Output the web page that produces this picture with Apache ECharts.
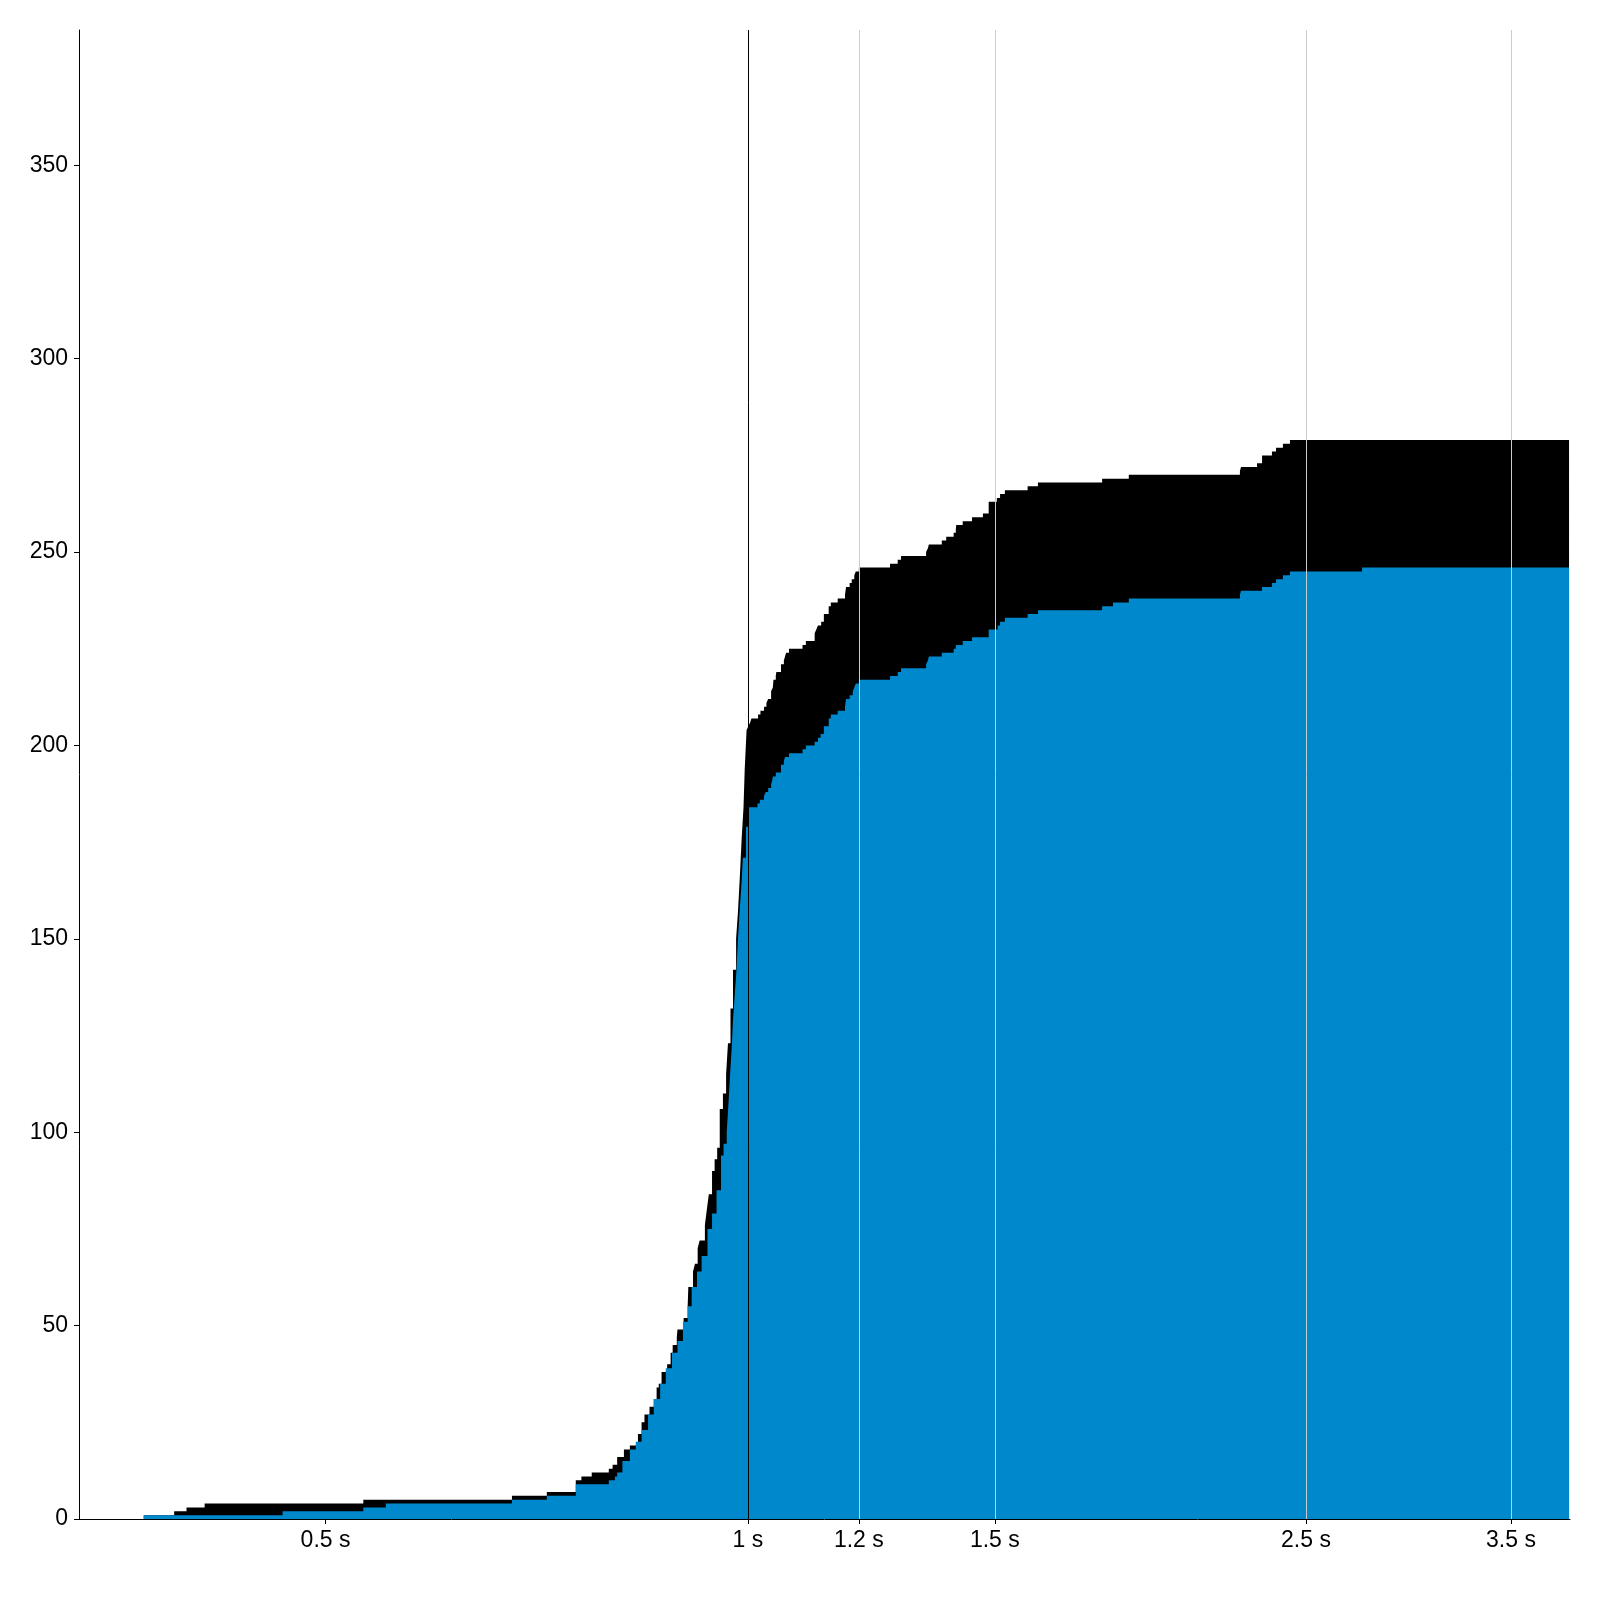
<!DOCTYPE html>
<html>
<head>
<meta charset="utf-8">
<script src="https://cdn.jsdelivr.net/npm/echarts@6/dist/echarts.min.js"></script>
<style>
  html, body { margin: 0; padding: 0; background: #fff; }
  #main { width: 1600px; height: 1600px; }
</style>
</head>
<body>
<div id="main"></div>
<script>
// tick labels
var xTicks = [0.5, 1, 1.2, 1.5, 2.5, 3.5];
var yTicks = [0, 50, 100, 150, 200, 250, 300, 350];

// total count (black) - time in seconds, cumulative value
var totalTimes = [0.371,0.390,0.398,0.410,0.532,0.679,0.719,0.754,0.761,0.774,
  0.796,0.801,0.807,0.816,0.824,0.835,0.840,0.844,0.851,0.857,
  0.861,0.864,0.868,0.876,0.881,0.884,0.890,0.891,0.900,0.906,
  0.907,0.914,0.917,0.921,0.924,0.932,0.935,0.938,0.943,0.947,
  0.951,0.955,0.960,0.965,0.968,0.972,0.976,0.981,0.984,0.987,
  0.990,0.993,0.995,0.998,1.001,1.004,1.006,1.017,1.021,1.027,
  1.031,1.034,1.039,1.042,1.043,1.047,1.048,1.056,1.061,1.063,
  1.065,1.070,1.094,1.100,1.116,1.119,1.122,1.128,1.133,1.142,
  1.146,1.159,1.173,1.175,1.182,1.186,1.191,1.194,1.200,1.263,
  1.279,1.286,1.340,1.344,1.346,1.375,1.385,1.402,1.407,1.408,
  1.423,1.445,1.471,1.485,1.505,1.513,1.525,1.583,1.610,1.789,
  1.869,2.243,2.247,2.307,2.326,2.364,2.380,2.407,2.435,3.850];
var totalValues = [1,2,3,4,5,6,7,10,11,12,
  13,14,16,18,19,22,25,27,29,31,
  34,35,38,40,43,45,47,49,52,55,
  60,64,66,70,72,76,80,84,90,93,
  96,106,110,115,123,132,142,150,157,166,
  176,184,194,204,205,206,207,208,209,210,
  211,212,214,215,217,218,219,221,222,223,
  224,225,226,227,229,230,231,232,234,236,
  237,238,239,241,242,243,244,245,246,247,
  248,249,250,251,252,253,254,255,256,257,
  258,259,260,263,264,265,266,267,268,269,
  270,271,272,273,275,276,277,278,279,279];

// blue part
var blueTimes = [0.371,0.466,0.532,0.552,0.679,0.719,0.754,0.796,0.804,0.807,
  0.814,0.824,0.832,0.840,0.849,0.857,0.866,0.874,0.883,0.891,
  0.899,0.906,0.912,0.920,0.927,0.936,0.943,0.950,0.957,0.961,
  0.966,0.969,0.971,0.974,0.976,0.979,0.982,0.984,0.987,0.990,
  0.992,0.997,1.002,1.016,1.020,1.027,1.030,1.034,1.039,1.041,
  1.042,1.047,1.056,1.061,1.063,1.070,1.094,1.100,1.116,1.122,
  1.127,1.133,1.142,1.146,1.159,1.173,1.175,1.182,1.188,1.191,
  1.194,1.200,1.263,1.279,1.286,1.340,1.344,1.346,1.375,1.402,
  1.407,1.423,1.445,1.485,1.507,1.513,1.525,1.583,1.610,1.789,
  1.821,1.869,2.243,2.247,2.326,2.364,2.380,2.407,2.435,2.741,3.850];
var blueValues = [1,2,3,4,5,6,9,10,11,12,
  15,18,20,23,27,31,35,39,43,46,
  51,55,60,64,68,75,79,85,94,97,
  100,108,114,122,129,136,143,150,158,165,
  171,179,184,185,186,187,188,189,190,191,
  192,193,195,196,197,198,199,200,201,202,
  203,205,207,208,209,210,212,213,214,215,
  216,217,218,219,220,221,222,223,224,225,
  226,227,228,230,231,232,233,234,235,236,
  237,238,239,240,241,242,243,244,245,246,247];

var myChart = echarts.init(document.getElementById("main"));

function pairs(ts, vs) {
  return ts.map(function (t, i) { return [t, vs[i]]; });
}

var labelFont = {
  color: "#000",
  fontSize: 23,
  fontFamily: "Liberation Sans, Arial, sans-serif",
};

var option = {
  animation: false,
  backgroundColor: "#fff",
  grid: {
    left: 79,
    right: 30,
    top: 30,
    bottom: 81,
  },
  xAxis: {
    type: "log",
    min: 0.3336,
    max: 3.856,
    z: 5,
    axisLine: { show: true, onZero: false, lineStyle: { color: "#000", width: 1 } },
    axisTick: { show: true, length: 5, customValues: xTicks, lineStyle: { color: "#000" } },
    axisLabel: Object.assign({
      customValues: xTicks,
      margin: 10,
      formatter: function (v) { return v + " s"; },
    }, labelFont),
    splitLine: {
      show: true,
      // no line at 0.5 s, 1 s line is black, the rest light grey
      lineStyle: { color: ["rgba(0,0,0,0)", "#000000", "#cccccc", "#cccccc", "#cccccc", "#cccccc"], width: 1 },
    },
    minorTick: { show: false },
    minorSplitLine: { show: false },
  },
  yAxis: {
    type: "value",
    min: 0,
    max: 385,
    interval: 50,
    axisLine: { show: true, lineStyle: { color: "#000", width: 1 } },
    axisTick: { show: true, length: 5, customValues: yTicks, lineStyle: { color: "#000" } },
    axisLabel: Object.assign({ customValues: yTicks, margin: 11 }, labelFont),
    splitLine: { show: false },
  },
  series: [
    {
      name: "total",
      type: "line",
      step: "end",
      showSymbol: false,
      silent: true,
      lineStyle: { width: 0, color: "#000" },
      itemStyle: { color: "#000" },
      areaStyle: { color: "#000", opacity: 1 },
      data: pairs(totalTimes, totalValues),
    },
    {
      name: "blue",
      type: "line",
      step: "end",
      showSymbol: false,
      silent: true,
      lineStyle: { width: 0, color: "#0088cc" },
      itemStyle: { color: "#0088cc" },
      areaStyle: { color: "#0088cc", opacity: 1 },
      data: pairs(blueTimes, blueValues),
    },
  ],
};

myChart.setOption(option);
</script>
</body>
</html>
